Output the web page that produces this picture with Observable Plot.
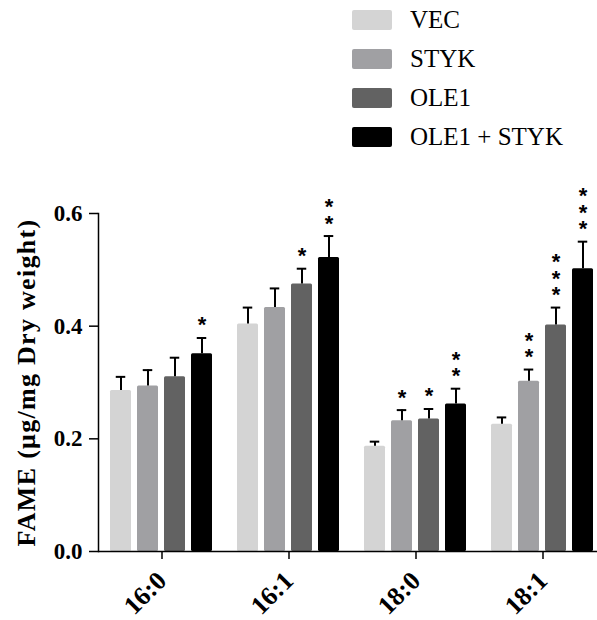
<!DOCTYPE html>
<html>
<head>
<meta charset="utf-8">
<script src="https://cdn.jsdelivr.net/npm/d3@7"></script>
<script src="https://cdn.jsdelivr.net/npm/@observablehq/plot@0.6"></script>
<style>
  html, body { margin: 0; padding: 0; background: #fff; overflow: hidden; }
  #legend { position: relative; height: 160px; width: 597px; }
  .item { position: absolute; left: 352px; display: flex; align-items: center; height: 20px;
          font-family: "Liberation Serif", "Times New Roman", serif; font-size: 25px; color: #000; }
  .sw { width: 40px; height: 20px; border-radius: 2px; margin-right: 18px; flex: none; }
</style>
</head>
<body>
<div id="legend"></div>
<div id="chart"></div>
<script>
const categories = ["16:0", "16:1", "18:0", "18:1"];
const series = ["VEC", "STYK", "OLE1", "OLE1 + STYK"];
const colors = ["#d4d4d4", "#a0a0a3", "#626262", "#000000"];
// mean values, rows = categories, columns = series
const means = [
  [0.286, 0.294, 0.310, 0.351],
  [0.404, 0.433, 0.475, 0.522],
  [0.187, 0.232, 0.235, 0.262],
  [0.226, 0.302, 0.402, 0.502]
];
// upper error (SEM)
const errors = [
  [0.024, 0.028, 0.034, 0.028],
  [0.029, 0.034, 0.027, 0.038],
  [0.008, 0.019, 0.018, 0.027],
  [0.012, 0.021, 0.031, 0.048]
];
// number of significance stars
const stars = [
  [0, 0, 0, 1],
  [0, 0, 1, 2],
  [0, 1, 1, 2],
  [0, 2, 3, 3]
];
const yTicks = [0, 0.2, 0.4, 0.6];

const data = [];
categories.forEach((c, i) => series.forEach((s, j) => data.push({
  cat: c, series: s, value: means[i][j], err: errors[i][j], top: means[i][j] + errors[i][j], stars: stars[i][j]
})));

// legend
const legend = document.getElementById("legend");
series.forEach((s, j) => {
  const it = document.createElement("div");
  it.className = "item";
  it.style.top = (10 + j * 39) + "px";
  const sw = document.createElement("div");
  sw.className = "sw";
  sw.style.background = colors[j];
  it.appendChild(sw);
  it.appendChild(document.createTextNode(s));
  legend.appendChild(it);
});

const serif = "Liberation Serif, Times New Roman, serif";
const plot = Plot.plot({
  width: 597,
  height: 460,
  marginTop: 53,
  marginBottom: 69,
  marginLeft: 98,
  marginRight: 0,
  style: {background: "#fff", overflow: "hidden"},
  fx: {domain: categories, range: [98, 606], padding: 0},
  x: {domain: series, paddingInner: 0.22, paddingOuter: 0.42, axis: null},
  y: {domain: [0, 0.6]},
  color: {domain: series, range: colors},
  marks: [
    Plot.barY(data, {fx: "cat", x: "series", y: "value", fill: "series", rx: 1.5}),
    Plot.ruleX(data, {fx: "cat", x: "series", y1: "value", y2: "top", stroke: "#000", strokeWidth: 2}),
    Plot.tickY(data, {fx: "cat", x: "series", y: "top", stroke: "#000", strokeWidth: 2, insetLeft: 5.75, insetRight: 5.75}),
    Plot.text(data.filter(d => d.stars > 0), {
      fx: "cat", x: "series", y: "top",
      text: d => "*".repeat(d.stars),
      textAnchor: "end", dy: -9,
      fontSize: 22, fontWeight: "bold", fontFamily: "Liberation Sans, Arial, sans-serif", fill: "#000",
      className: "stars"
    }),
    Plot.ruleY([0], {stroke: "#000", strokeWidth: 1.5}),
    Plot.frame({anchor: "left", facetAnchor: "left", stroke: "#000", strokeWidth: 1.5}),
    Plot.axisY({
      ticks: yTicks, tickFormat: d3.format(".1f"), tickSize: 9, tickPadding: 7, strokeWidth: 1.5,
      fontSize: 23, fontWeight: "bold", fontFamily: serif, fill: "#000",
      label: "FAME (μg/mg Dry weight)", labelAnchor: "center", labelArrow: "none", labelOffset: 82
    }),
    Plot.axisFx({
      anchor: "bottom", tickSize: 8, tickPadding: 17, tickRotate: -45, strokeWidth: 1.5,
      fontSize: 26, fontWeight: "bold", fontFamily: serif, fill: "#000", label: null
    })
  ]
});
// widen the y-axis title a little (font size + letter spacing) to match the original
d3.select(plot).selectAll("[aria-label='y-axis label'] text, [aria-label='y-axis label']")
  .filter(function() { return this.tagName === "text" || this.tagName === "g"; })
  .attr("font-size", 26).attr("letter-spacing", "1.3px");
// significance stars stacked vertically (one text per bar, upright glyphs)
d3.select(plot).selectAll("g.stars text")
  .attr("y", null).attr("dy", null)
  .style("writing-mode", "vertical-rl")
  .style("text-orientation", "upright")
  .style("letter-spacing", "-8.5px");
document.getElementById("chart").appendChild(plot);
</script>
</body>
</html>
